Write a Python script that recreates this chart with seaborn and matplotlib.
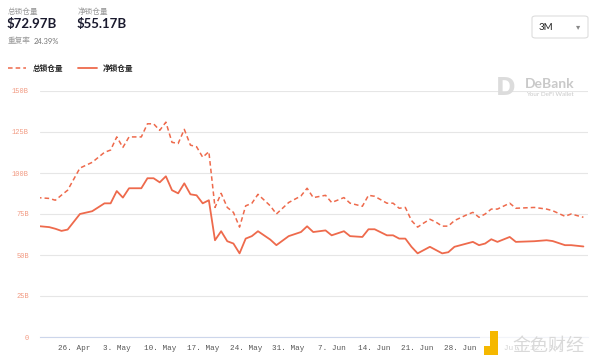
import pandas as pd
import matplotlib
matplotlib.use('Agg')
import matplotlib.pyplot as plt
import matplotlib.dates as mdates
from matplotlib.patches import FancyBboxPatch, Rectangle
from matplotlib.lines import Line2D
import seaborn as sns

# dữ liệu (đơn vị: tỷ USD)
dates = ["2021-04-20", "2021-04-22", "2021-04-23", "2021-04-24", "2021-04-25",
         "2021-04-27", "2021-04-29", "2021-05-01", "2021-05-02", "2021-05-03",
         "2021-05-04", "2021-05-05", "2021-05-07", "2021-05-08", "2021-05-09",
         "2021-05-10", "2021-05-11", "2021-05-12", "2021-05-13", "2021-05-14",
         "2021-05-15", "2021-05-16", "2021-05-17", "2021-05-18", "2021-05-19",
         "2021-05-20", "2021-05-21", "2021-05-22", "2021-05-23", "2021-05-24",
         "2021-05-25", "2021-05-26", "2021-05-28", "2021-05-29", "2021-05-31",
         "2021-06-02", "2021-06-03", "2021-06-04", "2021-06-06", "2021-06-07",
         "2021-06-09", "2021-06-10", "2021-06-12", "2021-06-13", "2021-06-14",
         "2021-06-16", "2021-06-17", "2021-06-18", "2021-06-19", "2021-06-20",
         "2021-06-21", "2021-06-22", "2021-06-23", "2021-06-24", "2021-06-25",
         "2021-06-26", "2021-06-27", "2021-06-29", "2021-06-30", "2021-07-01",
         "2021-07-02", "2021-07-03", "2021-07-04", "2021-07-06", "2021-07-07",
         "2021-07-10", "2021-07-12", "2021-07-13", "2021-07-15", "2021-07-16",
         "2021-07-18"]
total_tvl = [85, 84.5, 83.4, 86.5, 89.5,
             103, 106.5, 112.6, 114, 122,
             115.6, 122, 122, 130, 130,
             126, 131, 118.7, 118, 126.6,
             117, 116, 109.6, 113, 79,
             87.6, 79, 76, 67, 80,
             81.5, 87, 80, 75, 82,
             86, 90.7, 85, 86.4, 82,
             85, 81.6, 79.7, 86.4, 85.8,
             81.6, 81.6, 78.5, 79, 71,
             67, 69.5, 71.8, 70, 67.6,
             67.6, 71, 74.5, 76, 73,
             75, 78, 78, 81.6, 78.5,
             79, 78, 77, 73.6, 75,
             73]
net_tvl = [67.7, 67, 66, 64.7, 65.5,
           75, 76.7, 81.5, 81.5, 89,
           85, 90.7, 90.7, 96.8, 96.8,
           94.3, 98, 89.5, 87.6, 93.7,
           87, 86.4, 81.5, 83.4, 59,
           64.5, 58.4, 57, 51, 60,
           61.5, 64.5, 59.4, 56, 61.5,
           64, 67.5, 64, 65, 62,
           64.5, 61.5, 61, 65.7, 65.7,
           62, 62, 60, 60, 55,
           51, 53, 55, 53, 51,
           51.7, 55, 57, 58, 56,
           57, 59.6, 58, 61, 58,
           58.4, 59, 58.5, 56, 56,
           55.2]
y_ticks = [0, 25, 50, 75, 100, 125, 150]
y_labels = ["0", "25B", "50B", "75B", "100B", "125B", "150B"]

sns.set_theme(style="white")
plt.rcParams['font.family'] = ['Noto Sans CJK SC', 'DejaVu Sans']

df = pd.DataFrame({"date": pd.to_datetime(dates), "total": total_tvl, "net": net_tvl})
line_color = "#ee6a4c"

fig = plt.figure(figsize=(6, 3.61), dpi=100)
ax = fig.add_axes([40 / 600, 1 - 337 / 361, 548 / 600, 246 / 361])

sns.lineplot(data=df, x="date", y="total", ax=ax, color=line_color, lw=1.1,
             linestyle=(0, (3, 2)))
sns.lineplot(data=df, x="date", y="net", ax=ax, color=line_color, lw=1.3)

ax.set_xlim(pd.Timestamp("2021-04-20 12:00"), pd.Timestamp("2021-07-18 18:00"))
ax.set_ylim(0, 150)
ax.set_yticks(y_ticks)
ax.set_yticklabels(y_labels, family="Liberation Mono", fontsize=5, color="#f29a82")
ax.xaxis.set_major_locator(mdates.WeekdayLocator(byweekday=mdates.MO))
ax.xaxis.set_major_formatter(mdates.DateFormatter("%-d. %b"))
for lbl in ax.get_xticklabels():
    lbl.set_family("Liberation Mono")
    lbl.set_fontsize(5.5)
    lbl.set_color("#555555")
ax.set_xlabel("")
ax.set_ylabel("")
ax.grid(axis="y", color="#e6e6e6", lw=0.8)
ax.grid(axis="x", visible=False)
for side in ["top", "right", "left"]:
    ax.spines[side].set_visible(False)
ax.spines["bottom"].set_color("#ccd6eb")
ax.spines["bottom"].set_linewidth(0.8)
ax.tick_params(axis="x", direction="out", length=4, width=0.8, color="#ccd6eb", pad=2)
ax.tick_params(axis="y", length=0, pad=8)

# tiêu đề phía trên
fig.text(8 / 600, 1 - 12 / 361, "总锁仓量", fontsize=5.5, color="#999999", va="center")
fig.text(7 / 600, 1 - 24 / 361, "$72.97B", fontsize=9.5, weight="bold", color="#1a1a2e", va="center",
         family="Lato")
fig.text(78 / 600, 1 - 12 / 361, "净锁仓量", fontsize=5.5, color="#999999", va="center")
fig.text(77 / 600, 1 - 24 / 361, "$55.17B", fontsize=9.5, weight="bold", color="#1a1a2e", va="center",
         family="Lato")
fig.text(8 / 600, 1 - 41 / 361, "重复率", fontsize=5.5, color="#999999", va="center")
fig.text(34 / 600, 1 - 41 / 361, "24.39%", fontsize=5.5, color="#777777", va="center", family="Lato")

# chú thích
handles = [Line2D([], [], color=line_color, lw=1.1, linestyle=(0, (3, 2))),
           Line2D([], [], color=line_color, lw=1.3)]
leg = fig.legend(handles, ["总锁仓量", "净锁仓量"], loc="center left",
                 bbox_to_anchor=(8 / 600, 1 - 68 / 361), ncol=2, frameon=False,
                 fontsize=5.5, handlelength=2.4, columnspacing=2.0, handletextpad=0.8,
                 borderaxespad=0, borderpad=0)
for t in leg.get_texts():
    t.set_weight("bold")
    t.set_color("#222222")

# ô chọn 3M
box = FancyBboxPatch((532 / 600, 1 - 38 / 361), 56 / 600, 22 / 361,
                     boxstyle="round,pad=0,rounding_size=0.006", transform=fig.transFigure,
                     fc="white", ec="#dddddd", lw=0.8)
fig.patches.append(box)
fig.text(539 / 600, 1 - 27 / 361, "3M", fontsize=7, color="#222222", va="center", family="Lato")
fig.text(576 / 600, 1 - 27 / 361, "▾", fontsize=6, color="#888888", va="center", family="DejaVu Sans")

# watermark DeBank
fig.text(496 / 600, 1 - 88 / 361, "D", fontsize=17, weight="bold", color="#dcdcdc", va="center",
         family="DejaVu Sans")
fig.text(525 / 600, 1 - 84 / 361, "DeBank", fontsize=10, weight="bold", color="#c9c9c9", va="center",
         family="Lato")
fig.text(526 / 600, 1 - 94 / 361, "Your DeFi Wallet", fontsize=4.5, color="#c9c9c9", va="center",
         family="Lato")

# watermark 金色财经
fig.patches.append(Rectangle((480 / 600, 0), 118 / 600, 30 / 361, transform=fig.transFigure,
                             fc="white", ec="none", alpha=0.75, zorder=5))
fig.patches.append(Rectangle((484 / 600, 6 / 361), 6 / 600, 9 / 361, transform=fig.transFigure,
                             fc="#f5b800", ec="none", zorder=6))
fig.patches.append(Rectangle((490 / 600, 6 / 361), 8 / 600, 24 / 361, transform=fig.transFigure,
                             fc="#f5b800", ec="none", zorder=6))
fig.text(548 / 600, 15 / 361, "金色财经", fontsize=13, color="#d9d9d9", va="center", ha="center",
         zorder=7)

plt.savefig("out.png", dpi=100)
plt.close()
